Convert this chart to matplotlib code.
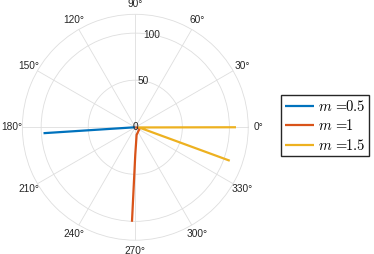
import numpy as np
import matplotlib
matplotlib.use("Agg")
import matplotlib.pyplot as plt

plt.rcParams['font.family'] = ['Liberation Sans', 'DejaVu Sans']
plt.rcParams['mathtext.fontset'] = 'cm'

# Values (angle in degrees, radius in data units)
labels = [r'$m\,=\!\!0.5$', r'$m\,=\!\!1$', r'$m\,=\!\!1.5$']
colors = ['#0072BD', '#D95319', '#EDB120']
blue_theta = [0.0, 183.7]
blue_r = [0.0, 97.7]
orange_theta = [0.0, -12.0, -80.0, -90.0, -92.0]
orange_r = [0.0, 4.9, 8.2, 29.0, 100.5]
yellow_theta = [-19.5, -3.0, 0.0]
yellow_r = [106.5, 4.0, 107.0]
r_ticks = [0, 50, 100]
r_max = 120
theta_ticks = np.arange(0, 360, 30)

fig = plt.figure(figsize=(3.74, 2.54), dpi=100)
ax = fig.add_axes([0.0597, 0.054, 0.604, 0.89], projection='polar')

grid_col = '#dedede'
series = [(blue_theta, blue_r), (orange_theta, orange_r), (yellow_theta, yellow_r)]
for (th, r), c, lab in zip(series, colors, labels):
    ax.plot(np.deg2rad(th), r, color=c, lw=1.6, label=lab, solid_capstyle='butt')

ax.set_ylim(0, r_max)
ax.set_thetagrids(theta_ticks, [f'{t}°' for t in theta_ticks])
ax.set_yticks(r_ticks)
ax.set_yticklabels([])
for r in r_ticks:
    ax.text(np.deg2rad(80), r, str(r), ha='center', va='center',
            fontsize=7.3, color='#262626')
ax.tick_params(axis='x', pad=-3, labelsize=7.3, labelcolor='#262626')
ax.grid(True, color=grid_col, lw=0.6)
ax.spines['polar'].set_color(grid_col)
ax.spines['polar'].set_linewidth(0.6)

fig.legend(loc='center left', bbox_to_anchor=(0.751, 0.505), fontsize=10.5,
           frameon=True, fancybox=False, edgecolor='#262626', framealpha=1,
           borderpad=0.25, handlelength=2.0, handletextpad=0.3,
           labelspacing=0.3, borderaxespad=0)

fig.savefig('out.png', dpi=100)
